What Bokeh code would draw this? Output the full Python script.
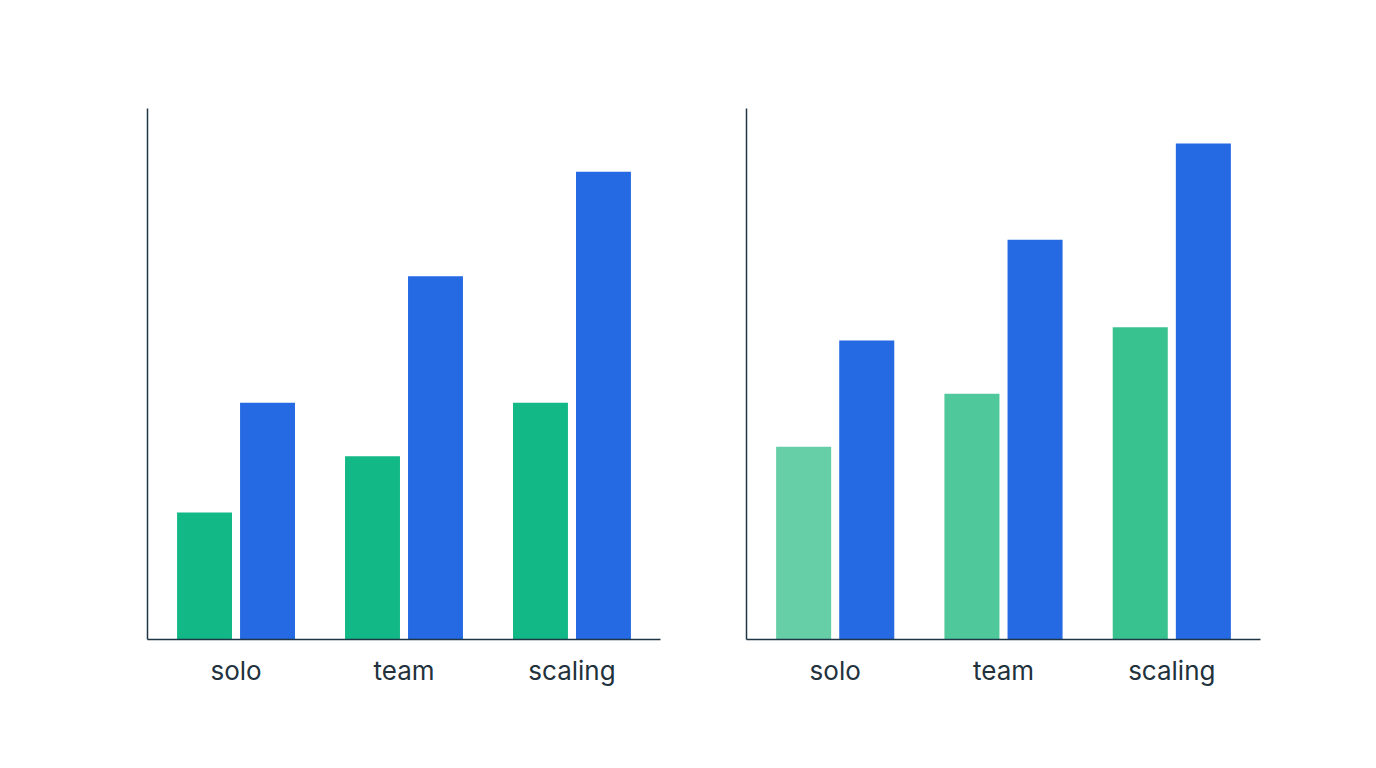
from bokeh.plotting import figure
from bokeh.layouts import row
from bokeh.models import ColumnDataSource, FactorRange, Range1d, FixedTicker
from bokeh.transform import dodge
from bokeh.embed import file_html
from bokeh.resources import INLINE

categories = ["solo", "team", "scaling"]
left_green = [23.9, 34.5, 44.6]
left_blue = [44.6, 68.4, 88.1]
right_green = [36.3, 46.3, 58.8]
right_blue = [56.3, 75.3, 93.4]

AXIS = "#1E3645"
LABEL = "#22323D"
BLUE = "#2569E3"
GREEN_LEFT = ["#12B886", "#12B886", "#12B886"]
GREEN_RIGHT = ["#66CFA8", "#4FC89C", "#38C290"]


def panel(greens, blues, green_colors, border_left, frame_w, border_right):
    src = ColumnDataSource(dict(cat=categories, g=greens, b=blues, gc=green_colors))
    p = figure(
        x_range=FactorRange(factors=categories, range_padding=0.018),
        y_range=Range1d(0, 100),
        frame_width=frame_w, frame_height=531,
        min_border_left=border_left, min_border_right=border_right,
        min_border_top=108, min_border_bottom=129,
        output_backend="svg", toolbar_location=None,
        background_fill_color="white", border_fill_color="white",
    )
    p.vbar(x=dodge("cat", -0.1875, range=p.x_range), top="g", width=0.327,
           source=src, fill_color="gc", line_color=None)
    p.vbar(x=dodge("cat", 0.1875, range=p.x_range), top="b", width=0.327,
           source=src, fill_color=BLUE, line_color=None)
    p.outline_line_color = None
    p.xgrid.visible = False
    p.ygrid.visible = False
    p.yaxis.ticker = FixedTicker(ticks=[])
    p.yaxis.axis_line_color = AXIS
    p.yaxis.axis_line_width = 1.5
    p.yaxis.major_tick_line_color = None
    p.yaxis.minor_tick_line_color = None
    p.xaxis.axis_line_color = AXIS
    p.xaxis.axis_line_width = 1.5
    p.xaxis.major_tick_line_color = None
    p.xaxis.minor_tick_line_color = None
    p.xaxis.major_label_text_font = "Inter"
    p.xaxis.major_label_text_font_size = "26px"
    p.xaxis.major_label_text_color = LABEL
    p.xaxis.major_label_standoff = 9
    return p


p1 = panel(left_green, left_blue, GREEN_LEFT, 147, 513, 43)
p2 = panel(right_green, right_blue, GREEN_RIGHT, 43, 514, 116)
layout = row(p1, p2, spacing=0)

open("out.html", "w").write(file_html(layout, INLINE))
